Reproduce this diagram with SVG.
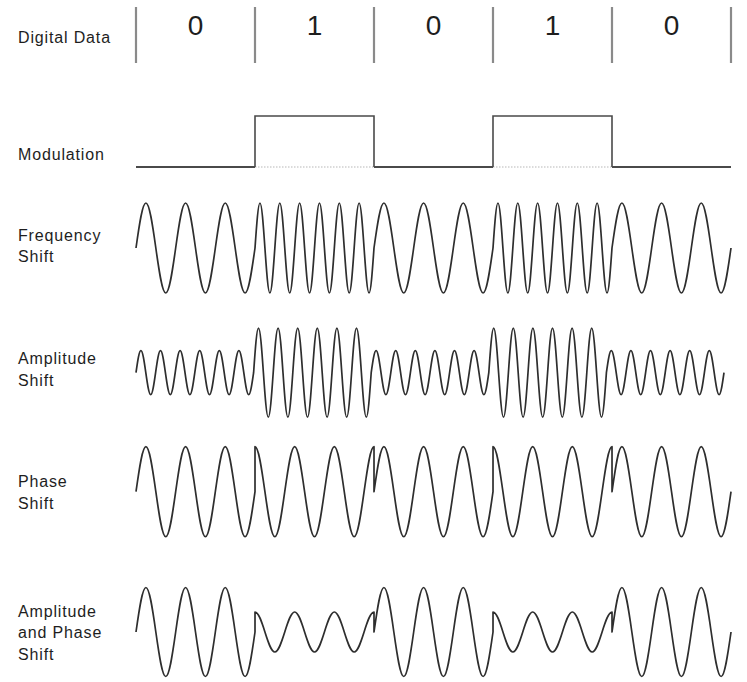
<svg xmlns="http://www.w3.org/2000/svg" width="747" height="682" viewBox="0 0 747 682">
<style>
.lbl{font-family:"Liberation Sans",Arial,sans-serif;font-size:16px;letter-spacing:0.85px;fill:#1e1e1e}
.bit{font-family:"Liberation Sans",Arial,sans-serif;font-size:28px;fill:#1e1e1e;text-anchor:middle}
.sep{stroke:#8a8a8a;stroke-width:2.2;fill:none}
.wave{stroke:#2e2e2e;stroke-width:1.7;fill:none;stroke-linejoin:round}
.mod{stroke:#4a4a4a;stroke-width:1.6;fill:none}
.dot{stroke:#b8b8b8;stroke-width:1.2;stroke-dasharray:1.5 1.5;fill:none}
</style>
<rect width="747" height="682" fill="#ffffff"/>
<g id="labels">
<text class="lbl" x="18" y="43">Digital Data</text>
<text class="lbl" x="18" y="159.5">Modulation</text>
<text class="lbl" x="18" y="240.5">Frequency</text>
<text class="lbl" x="18" y="262">Shift</text>
<text class="lbl" x="18" y="364">Amplitude</text>
<text class="lbl" x="18" y="385.7">Shift</text>
<text class="lbl" x="18" y="486.7">Phase</text>
<text class="lbl" x="18" y="508.5">Shift</text>
<text class="lbl" x="18" y="616.7">Amplitude</text>
<text class="lbl" x="18" y="638.3">and Phase</text>
<text class="lbl" x="18" y="660">Shift</text>
</g>
<g id="digital-data">
<path class="sep" d="M136,7V63M255,7V63M374,7V63M493,7V63M612,7V63M731,7V63"/>
<text class="bit" x="195.5" y="35">0</text>
<text class="bit" x="314.5" y="35">1</text>
<text class="bit" x="433.5" y="35">0</text>
<text class="bit" x="552.5" y="35">1</text>
<text class="bit" x="671.5" y="35">0</text>
</g>
<g id="modulation">
<path class="dot" d="M255,167H374M493,167H612"/>
<path class="mod" d="M255,167V116H374V167M493,167V116H612V167"/>
<path class="mod" style="stroke-width:2.2" d="M136,167H255M374,167H493M612,167H731"/>
</g>
<g id="frequency-shift">
<path class="wave" d="M136,248
c3.234,-23.05 6.328,-45 9.917,-45 s6.683,21.95 9.917,45 s6.328,45 9.917,45 s6.683,-21.95 9.917,-45 s6.328,-45 9.917,-45 s6.683,21.95 9.917,45 s6.328,45 9.917,45 s6.683,-21.95 9.917,-45 s6.328,-45 9.917,-45 s6.683,21.95 9.917,45 s6.328,45 9.917,45 s6.683,-21.95 9.917,-45
c1.617,-23.05 3.164,-45 4.958,-45 s3.341,21.95 4.958,45 s3.164,45 4.958,45 s3.341,-21.95 4.958,-45 s3.164,-45 4.958,-45 s3.341,21.95 4.958,45 s3.164,45 4.958,45 s3.341,-21.95 4.958,-45 s3.164,-45 4.958,-45 s3.341,21.95 4.958,45 s3.164,45 4.958,45 s3.341,-21.95 4.958,-45 s3.164,-45 4.958,-45 s3.341,21.95 4.958,45 s3.164,45 4.958,45 s3.341,-21.95 4.958,-45 s3.164,-45 4.958,-45 s3.341,21.95 4.958,45 s3.164,45 4.958,45 s3.341,-21.95 4.958,-45 s3.164,-45 4.958,-45 s3.341,21.95 4.958,45 s3.164,45 4.958,45 s3.341,-21.95 4.958,-45
c3.234,-23.05 6.328,-45 9.917,-45 s6.683,21.95 9.917,45 s6.328,45 9.917,45 s6.683,-21.95 9.917,-45 s6.328,-45 9.917,-45 s6.683,21.95 9.917,45 s6.328,45 9.917,45 s6.683,-21.95 9.917,-45 s6.328,-45 9.917,-45 s6.683,21.95 9.917,45 s6.328,45 9.917,45 s6.683,-21.95 9.917,-45
c1.617,-23.05 3.164,-45 4.958,-45 s3.341,21.95 4.958,45 s3.164,45 4.958,45 s3.341,-21.95 4.958,-45 s3.164,-45 4.958,-45 s3.341,21.95 4.958,45 s3.164,45 4.958,45 s3.341,-21.95 4.958,-45 s3.164,-45 4.958,-45 s3.341,21.95 4.958,45 s3.164,45 4.958,45 s3.341,-21.95 4.958,-45 s3.164,-45 4.958,-45 s3.341,21.95 4.958,45 s3.164,45 4.958,45 s3.341,-21.95 4.958,-45 s3.164,-45 4.958,-45 s3.341,21.95 4.958,45 s3.164,45 4.958,45 s3.341,-21.95 4.958,-45 s3.164,-45 4.958,-45 s3.341,21.95 4.958,45 s3.164,45 4.958,45 s3.341,-21.95 4.958,-45
c3.234,-23.05 6.328,-45 9.917,-45 s6.683,21.95 9.917,45 s6.328,45 9.917,45 s6.683,-21.95 9.917,-45 s6.328,-45 9.917,-45 s6.683,21.95 9.917,45 s6.328,45 9.917,45 s6.683,-21.95 9.917,-45 s6.328,-45 9.917,-45 s6.683,21.95 9.917,45 s6.328,45 9.917,45 s6.683,-21.95 9.917,-45"/>
</g>
<g id="amplitude-shift">
<path class="wave" d="M136,372.7
c1.598,-11.27 3.127,-22 4.9,-22 s3.302,10.73 4.9,22 s3.127,22 4.9,22 s3.302,-10.73 4.9,-22 s3.127,-22 4.9,-22 s3.302,10.73 4.9,22 s3.127,22 4.9,22 s3.302,-10.73 4.9,-22 s3.127,-22 4.9,-22 s3.302,10.73 4.9,22 s3.127,22 4.9,22 s3.302,-10.73 4.9,-22 s3.127,-22 4.9,-22 s3.302,10.73 4.9,22 s3.127,22 4.9,22 s3.302,-10.73 4.9,-22 s3.127,-22 4.9,-22 s3.302,10.73 4.9,22 s3.127,22 4.9,22 s3.302,-10.73 4.9,-22 s3.127,-22 4.9,-22 s3.302,10.73 4.9,22 s3.127,22 4.9,22 s3.302,-10.73 4.9,-22
c1.598,-22.8 3.127,-44.5 4.9,-44.5 s3.302,21.7 4.9,44.5 s3.127,44.5 4.9,44.5 s3.302,-21.7 4.9,-44.5 s3.127,-44.5 4.9,-44.5 s3.302,21.7 4.9,44.5 s3.127,44.5 4.9,44.5 s3.302,-21.7 4.9,-44.5 s3.127,-44.5 4.9,-44.5 s3.302,21.7 4.9,44.5 s3.127,44.5 4.9,44.5 s3.302,-21.7 4.9,-44.5 s3.127,-44.5 4.9,-44.5 s3.302,21.7 4.9,44.5 s3.127,44.5 4.9,44.5 s3.302,-21.7 4.9,-44.5 s3.127,-44.5 4.9,-44.5 s3.302,21.7 4.9,44.5 s3.127,44.5 4.9,44.5 s3.302,-21.7 4.9,-44.5 s3.127,-44.5 4.9,-44.5 s3.302,21.7 4.9,44.5 s3.127,44.5 4.9,44.5 s3.302,-21.7 4.9,-44.5
c1.598,-11.27 3.127,-22 4.9,-22 s3.302,10.73 4.9,22 s3.127,22 4.9,22 s3.302,-10.73 4.9,-22 s3.127,-22 4.9,-22 s3.302,10.73 4.9,22 s3.127,22 4.9,22 s3.302,-10.73 4.9,-22 s3.127,-22 4.9,-22 s3.302,10.73 4.9,22 s3.127,22 4.9,22 s3.302,-10.73 4.9,-22 s3.127,-22 4.9,-22 s3.302,10.73 4.9,22 s3.127,22 4.9,22 s3.302,-10.73 4.9,-22 s3.127,-22 4.9,-22 s3.302,10.73 4.9,22 s3.127,22 4.9,22 s3.302,-10.73 4.9,-22 s3.127,-22 4.9,-22 s3.302,10.73 4.9,22 s3.127,22 4.9,22 s3.302,-10.73 4.9,-22
c1.598,-22.8 3.127,-44.5 4.9,-44.5 s3.302,21.7 4.9,44.5 s3.127,44.5 4.9,44.5 s3.302,-21.7 4.9,-44.5 s3.127,-44.5 4.9,-44.5 s3.302,21.7 4.9,44.5 s3.127,44.5 4.9,44.5 s3.302,-21.7 4.9,-44.5 s3.127,-44.5 4.9,-44.5 s3.302,21.7 4.9,44.5 s3.127,44.5 4.9,44.5 s3.302,-21.7 4.9,-44.5 s3.127,-44.5 4.9,-44.5 s3.302,21.7 4.9,44.5 s3.127,44.5 4.9,44.5 s3.302,-21.7 4.9,-44.5 s3.127,-44.5 4.9,-44.5 s3.302,21.7 4.9,44.5 s3.127,44.5 4.9,44.5 s3.302,-21.7 4.9,-44.5 s3.127,-44.5 4.9,-44.5 s3.302,21.7 4.9,44.5 s3.127,44.5 4.9,44.5 s3.302,-21.7 4.9,-44.5
c1.598,-11.27 3.127,-22 4.9,-22 s3.302,10.73 4.9,22 s3.127,22 4.9,22 s3.302,-10.73 4.9,-22 s3.127,-22 4.9,-22 s3.302,10.73 4.9,22 s3.127,22 4.9,22 s3.302,-10.73 4.9,-22 s3.127,-22 4.9,-22 s3.302,10.73 4.9,22 s3.127,22 4.9,22 s3.302,-10.73 4.9,-22 s3.127,-22 4.9,-22 s3.302,10.73 4.9,22 s3.127,22 4.9,22 s3.302,-10.73 4.9,-22 s3.127,-22 4.9,-22 s3.302,10.73 4.9,22 s3.127,22 4.9,22 s3.302,-10.73 4.9,-22 s3.127,-22 4.9,-22 s3.302,10.73 4.9,22 s3.127,22 4.9,22 s3.302,-10.73 4.9,-22"/>
</g>
<g id="phase-shift">
<path class="wave" d="M136,491.7
c3.234,-23.05 6.328,-45 9.917,-45 s6.683,21.95 9.917,45 s6.328,45 9.917,45 s6.683,-21.95 9.917,-45 s6.328,-45 9.917,-45 s6.683,21.95 9.917,45 s6.328,45 9.917,45 s6.683,-21.95 9.917,-45 s6.328,-45 9.917,-45 s6.683,21.95 9.917,45 s6.328,45 9.917,45 s6.683,-21.95 9.917,-45
v-45 c3.589,0 6.683,21.95 9.917,45 s6.328,45 9.917,45 s6.683,-21.95 9.917,-45 s6.328,-45 9.917,-45 s6.683,21.95 9.917,45 s6.328,45 9.917,45 s6.683,-21.95 9.917,-45 s6.328,-45 9.917,-45 s6.683,21.95 9.917,45 s6.328,45 9.917,45 s6.683,-21.95 9.917,-45 s6.328,-45 9.917,-45 v45
c3.234,-23.05 6.328,-45 9.917,-45 s6.683,21.95 9.917,45 s6.328,45 9.917,45 s6.683,-21.95 9.917,-45 s6.328,-45 9.917,-45 s6.683,21.95 9.917,45 s6.328,45 9.917,45 s6.683,-21.95 9.917,-45 s6.328,-45 9.917,-45 s6.683,21.95 9.917,45 s6.328,45 9.917,45 s6.683,-21.95 9.917,-45
v-45 c3.589,0 6.683,21.95 9.917,45 s6.328,45 9.917,45 s6.683,-21.95 9.917,-45 s6.328,-45 9.917,-45 s6.683,21.95 9.917,45 s6.328,45 9.917,45 s6.683,-21.95 9.917,-45 s6.328,-45 9.917,-45 s6.683,21.95 9.917,45 s6.328,45 9.917,45 s6.683,-21.95 9.917,-45 s6.328,-45 9.917,-45 v45
c3.234,-23.05 6.328,-45 9.917,-45 s6.683,21.95 9.917,45 s6.328,45 9.917,45 s6.683,-21.95 9.917,-45 s6.328,-45 9.917,-45 s6.683,21.95 9.917,45 s6.328,45 9.917,45 s6.683,-21.95 9.917,-45 s6.328,-45 9.917,-45 s6.683,21.95 9.917,45 s6.328,45 9.917,45 s6.683,-21.95 9.917,-45"/>
</g>
<g id="amplitude-and-phase-shift">
<path class="wave" d="M136,632
c3.234,-22.8 6.328,-44.5 9.917,-44.5 s6.683,21.7 9.917,44.5 s6.328,44.5 9.917,44.5 s6.683,-21.7 9.917,-44.5 s6.328,-44.5 9.917,-44.5 s6.683,21.7 9.917,44.5 s6.328,44.5 9.917,44.5 s6.683,-21.7 9.917,-44.5 s6.328,-44.5 9.917,-44.5 s6.683,21.7 9.917,44.5 s6.328,44.5 9.917,44.5 s6.683,-21.7 9.917,-44.5
v-20 c3.589,0 6.683,9.754 9.917,20 s6.328,20 9.917,20 s6.683,-9.754 9.917,-20 s6.328,-20 9.917,-20 s6.683,9.754 9.917,20 s6.328,20 9.917,20 s6.683,-9.754 9.917,-20 s6.328,-20 9.917,-20 s6.683,9.754 9.917,20 s6.328,20 9.917,20 s6.683,-9.754 9.917,-20 s6.328,-20 9.917,-20 v20
c3.234,-22.8 6.328,-44.5 9.917,-44.5 s6.683,21.7 9.917,44.5 s6.328,44.5 9.917,44.5 s6.683,-21.7 9.917,-44.5 s6.328,-44.5 9.917,-44.5 s6.683,21.7 9.917,44.5 s6.328,44.5 9.917,44.5 s6.683,-21.7 9.917,-44.5 s6.328,-44.5 9.917,-44.5 s6.683,21.7 9.917,44.5 s6.328,44.5 9.917,44.5 s6.683,-21.7 9.917,-44.5
v-20 c3.589,0 6.683,9.754 9.917,20 s6.328,20 9.917,20 s6.683,-9.754 9.917,-20 s6.328,-20 9.917,-20 s6.683,9.754 9.917,20 s6.328,20 9.917,20 s6.683,-9.754 9.917,-20 s6.328,-20 9.917,-20 s6.683,9.754 9.917,20 s6.328,20 9.917,20 s6.683,-9.754 9.917,-20 s6.328,-20 9.917,-20 v20
c3.234,-22.8 6.328,-44.5 9.917,-44.5 s6.683,21.7 9.917,44.5 s6.328,44.5 9.917,44.5 s6.683,-21.7 9.917,-44.5 s6.328,-44.5 9.917,-44.5 s6.683,21.7 9.917,44.5 s6.328,44.5 9.917,44.5 s6.683,-21.7 9.917,-44.5 s6.328,-44.5 9.917,-44.5 s6.683,21.7 9.917,44.5 s6.328,44.5 9.917,44.5 s6.683,-21.7 9.917,-44.5"/>
</g>
</svg>
